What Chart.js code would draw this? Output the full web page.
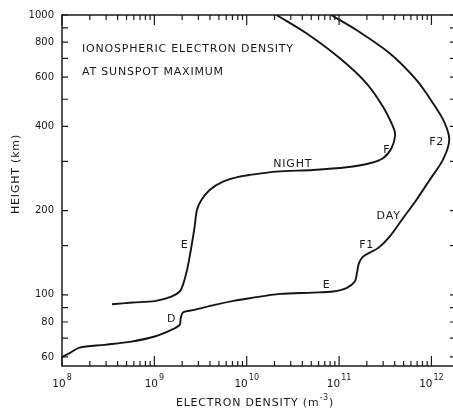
<!DOCTYPE html>
<html>
<head>
<meta charset="utf-8">
<script src="https://cdn.jsdelivr.net/npm/chart.js@4/dist/chart.umd.min.js"></script>
<style>
html, body { margin: 0; padding: 0; background: #fff; overflow: hidden; width: 453px; height: 409px; }
#wrap { position: absolute; left: 0; top: 0; width: 457px; height: 409px; }
</style>
</head>
<body>
<div id="wrap"><canvas id="c" width="457" height="409"></canvas></div>
<script>
// ---- data (electron density in m^-3, height in km) ----
const dayDensity = [1.0e8, 1.21e8, 1.55e8, 2.90e8, 5.64e8, 1.01e9, 1.53e9, 1.88e9, 1.93e9, 2.04e9,
  2.73e9, 4.50e9, 7.41e9, 1.08e10, 2.28e10, 5.22e10, 8.60e10, 1.20e11, 1.48e11, 1.56e11,
  1.64e11, 1.82e11, 2.15e11, 2.64e11, 3.53e11, 4.92e11, 6.87e11, 9.58e11, 1.33e12, 1.56e12,
  1.375e12, 1.04e12, 6.87e11, 3.53e11, 1.54e11, 8.2e10];
const dayHeight = [60, 61.9, 64.8, 66.3, 68.1, 71.0, 75.0, 78.1, 82.6, 86.5,
  88.4, 92.1, 95.4, 97.3, 100.8, 101.9, 102.8, 105.7, 111.6, 119.5,
  129.8, 137.0, 141.6, 146.9, 161.6, 187.9, 218.4, 257.5, 303.5, 357.8,
  415, 484, 586, 730, 884, 1000];

const nightDensity = [3.48e8, 5.83e8, 1.01e9, 1.53e9, 1.88e9, 2.04e9, 2.26e9, 2.52e9, 2.73e9, 2.89e9,
  3.23e9, 3.97e9, 5.54e9, 8.40e9, 1.08e10, 2.10e10, 5.22e10, 1.20e11, 2.15e11, 2.99e11,
  3.69e11, 4.05e11, 3.84e11, 2.99e11, 1.98e11, 1.02e11, 4.43e10, 2.10e10];
const nightHeight = [92.6, 93.9, 95.0, 98.6, 102.8, 108.6, 122.8, 148.7, 175.4, 201.2,
  218.4, 237.1, 253.9, 264.6, 268.3, 275.6, 279.5, 285.8, 295.4, 307.8,
  334.2, 372.7, 399, 470, 570, 700, 860, 1000];

// ---- axes ----
const xMajorTicks = [1e8, 1e9, 1e10, 1e11, 1e12];
const xExponents = ['8', '9', '10', '11', '12'];
const yTickValues = [60, 70, 80, 90, 100, 150, 200, 300, 400, 500, 600, 700, 800, 900, 1000];
const yLabelValues = [60, 80, 100, 200, 400, 600, 800, 1000];

// ---- curve annotations ----
const labelTexts = ['NIGHT', 'F', 'F2', 'DAY', 'F1', 'E', 'E', 'D'];
const labelDensity = [3.15e10, 3.28e11, 1.14e12, 3.44e11, 1.99e11, 7.35e10, 2.13e9, 1.54e9];
const labelHeight = [294, 330, 352, 191, 150, 108, 151, 82];

const titleLines = ['IONOSPHERIC ELECTRON DENSITY', 'AT SUNSPOT MAXIMUM'];
const xTitle = ['ELECTRON DENSITY (m', '-3', ')'];
const yTitle = 'HEIGHT (km)';

const INK = '#1a1a1a';
const FONT = 'DejaVu Sans';

const toPoints = (xs, ys) => xs.map((v, i) => ({ x: v, y: ys[i] }));

const decor = {
  id: 'decor',
  afterDraw(chart) {
    const { ctx, chartArea: a, scales: { x, y } } = chart;
    ctx.save();
    ctx.strokeStyle = INK;
    ctx.lineWidth = 1.5;
    ctx.strokeRect(a.left, a.top, a.right - a.left, a.bottom - a.top);

    // inward tick marks on all four sides
    ctx.lineWidth = 1.2;
    ctx.beginPath();
    xMajorTicks.forEach(d => {
      const p = x.getPixelForValue(d);
      ctx.moveTo(p, a.bottom); ctx.lineTo(p, a.bottom - 10);
      ctx.moveTo(p, a.top); ctx.lineTo(p, a.top + 10);
      for (let m = 2; m <= 9; m++) {
        const v = m * d;
        if (v > x.max) break;
        const q = x.getPixelForValue(v);
        ctx.moveTo(q, a.bottom); ctx.lineTo(q, a.bottom - 5);
        ctx.moveTo(q, a.top); ctx.lineTo(q, a.top + 5);
      }
    });
    yTickValues.forEach(v => {
      const p = y.getPixelForValue(v);
      ctx.moveTo(a.left, p); ctx.lineTo(a.left + 6, p);
      ctx.moveTo(a.right, p); ctx.lineTo(a.right - 5, p);
    });
    ctx.stroke();

    ctx.fillStyle = INK;
    // x tick labels: 10 with superscript exponent
    ctx.textBaseline = 'middle';
    ctx.textAlign = 'left';
    xMajorTicks.forEach((v, i) => {
      const p = x.getPixelForValue(v);
      ctx.font = `10.5px "${FONT}"`;
      const wb = ctx.measureText('10').width;
      ctx.font = `8px "${FONT}"`;
      const we = ctx.measureText(xExponents[i]).width;
      const start = p - (wb + we + 1) / 2;
      ctx.font = `10.5px "${FONT}"`;
      ctx.fillText('10', start, a.bottom + 18);
      ctx.font = `8px "${FONT}"`;
      ctx.fillText(xExponents[i], start + wb + 1, a.bottom + 11.5);
    });

    ctx.letterSpacing = '0.8px';
    // x title with superscript
    ctx.font = `11px "${FONT}"`;
    const w0 = ctx.measureText(xTitle[0]).width;
    const w2 = ctx.measureText(xTitle[2]).width;
    ctx.font = `8px "${FONT}"`;
    const w1 = ctx.measureText(xTitle[1]).width;
    let sx = 255 - (w0 + w1 + w2) / 2;
    ctx.font = `11px "${FONT}"`;
    ctx.fillText(xTitle[0], sx, 403);
    ctx.font = `8px "${FONT}"`;
    ctx.fillText(xTitle[1], sx + w0, 398);
    ctx.font = `11px "${FONT}"`;
    ctx.fillText(xTitle[2], sx + w0 + w1, 403);

    // y title
    ctx.save();
    ctx.translate(16, 174);
    ctx.rotate(-Math.PI / 2);
    ctx.textAlign = 'center';
    ctx.fillText(yTitle, 0, 0);
    ctx.restore();

    // title inside plot
    ctx.textAlign = 'left';
    ctx.fillText(titleLines[0], a.left + 20, a.top + 34);
    ctx.fillText(titleLines[1], a.left + 20, a.top + 57);

    // curve labels
    ctx.textAlign = 'center';
    labelTexts.forEach((t, i) => {
      ctx.fillText(t, x.getPixelForValue(labelDensity[i]), y.getPixelForValue(labelHeight[i]));
    });
    ctx.restore();
  }
};

const lineStyle = {
  showLine: true,
  borderColor: '#141414',
  backgroundColor: '#141414',
  borderWidth: 1.9,
  pointRadius: 0,
  pointHoverRadius: 0,
  tension: 0.3,
  fill: false
};

new Chart(document.getElementById('c'), {
  type: 'scatter',
  data: {
    datasets: [
      Object.assign({ label: 'Day', data: toPoints(dayDensity, dayHeight) }, lineStyle),
      Object.assign({ label: 'Night', data: toPoints(nightDensity, nightHeight) }, lineStyle)
    ]
  },
  options: {
    responsive: false,
    animation: false,
    devicePixelRatio: 1,
    layout: { padding: { left: 0, right: 2, top: 15, bottom: 0 } },
    plugins: {
      legend: { display: false },
      tooltip: { enabled: false },
      title: { display: false },
      colors: { enabled: false }
    },
    scales: {
      x: {
        type: 'logarithmic',
        position: 'bottom',
        min: 1e8,
        max: 1.8e12,
        bounds: 'data',
        grid: { display: false, drawTicks: false },
        border: { display: false },
        ticks: { display: false },
        afterFit: s => { s.height = 43; }
      },
      y: {
        type: 'logarithmic',
        position: 'left',
        min: 55.7,
        max: 1000,
        bounds: 'data',
        grid: { display: false, drawTicks: false },
        border: { display: false },
        afterBuildTicks: s => { s.ticks = yLabelValues.map(v => ({ value: v })); },
        ticks: {
          autoSkip: false,
          padding: 8,
          color: INK,
          font: { family: FONT, size: 10 },
          callback: v => (yLabelValues.includes(v) ? String(v) : '')
        },
        afterFit: s => { s.width = 62; }
      }
    }
  },
  plugins: [decor]
});
</script>
</body>
</html>
